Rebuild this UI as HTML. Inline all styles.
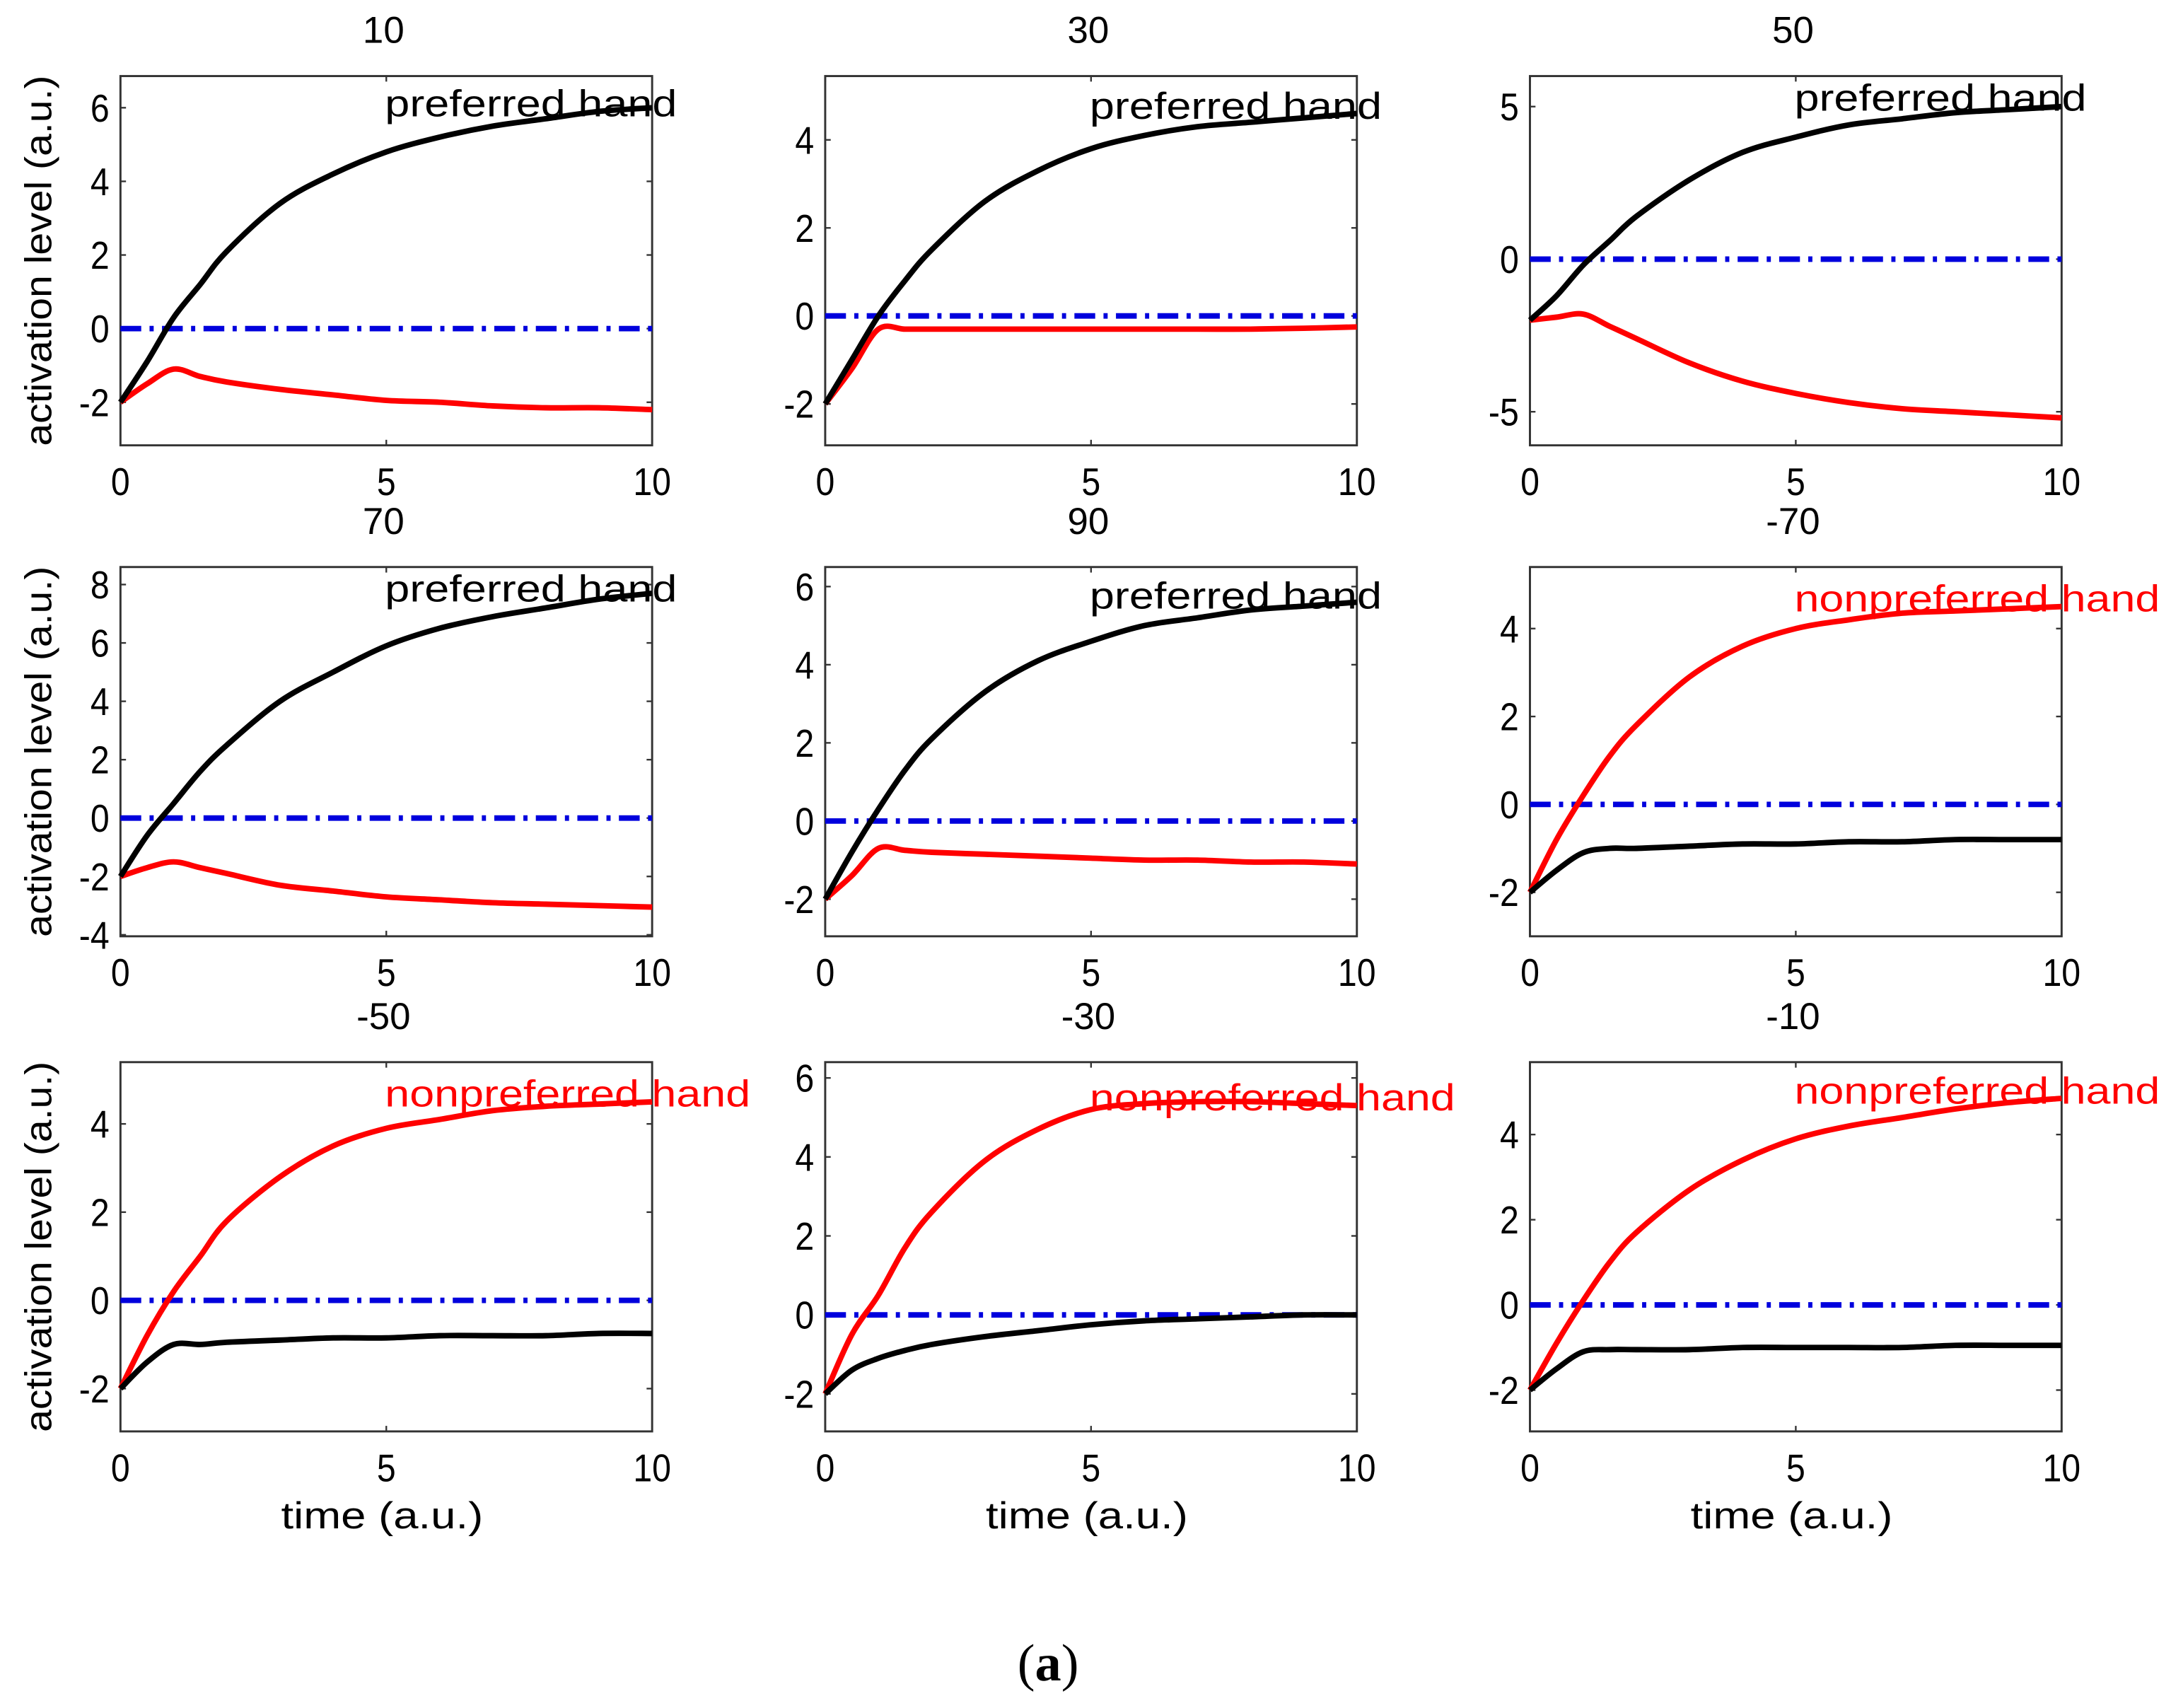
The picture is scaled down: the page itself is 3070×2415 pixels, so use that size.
<!DOCTYPE html>
<html><head><meta charset="utf-8">
<style>
html,body{margin:0;padding:0;background:#fff;}
svg{display:block;}
text{font-family:"Liberation Sans",sans-serif;}
</style></head>
<body>
<svg id="fig" width="3070" height="2415" viewBox="0 0 1568 1235" preserveAspectRatio="none" xmlns="http://www.w3.org/2000/svg">
<text x="757" y="1215" text-anchor="middle" font-size="38" style="font-family:'Liberation Serif',serif">(<tspan font-weight="bold">a</tspan>)</text>
</svg>
<script>
const timeSamples = [0,0.5,1,1.5,2,3,4,5,6,7,8,9,10];
const panelTitles = ["10","30","50","70","90","-70","-50","-30","-10"];
const blackSeries = [
 [-2,-0.9,0.3,1.2,2.1,3.4,4.2,4.8,5.2,5.5,5.7,5.9,6.0],
 [-2,-1.0,0.0,0.8,1.5,2.6,3.3,3.8,4.1,4.3,4.4,4.5,4.6],
 [-2,-1.2,-0.2,0.6,1.4,2.6,3.5,4.0,4.4,4.6,4.8,4.9,5.0],
 [-2,-0.6,0.5,1.6,2.5,4.0,5.0,5.9,6.5,6.9,7.2,7.5,7.7],
 [-2,-0.8,0.3,1.3,2.1,3.3,4.1,4.6,5.0,5.2,5.4,5.5,5.6],
 [-2,-1.5,-1.1,-1.0,-1.0,-0.95,-0.9,-0.9,-0.85,-0.85,-0.8,-0.8,-0.8],
 [-2,-1.4,-1.0,-1.0,-0.95,-0.9,-0.85,-0.85,-0.8,-0.8,-0.8,-0.75,-0.75],
 [-2,-1.4,-1.1,-0.9,-0.75,-0.55,-0.4,-0.25,-0.15,-0.1,-0.05,0.0,0.0],
 [-2,-1.5,-1.1,-1.05,-1.05,-1.05,-1.0,-1.0,-1.0,-1.0,-0.95,-0.95,-0.95]
];
const redSeries = [
 [-2,-1.5,-1.1,-1.3,-1.45,-1.65,-1.8,-1.95,-2.0,-2.1,-2.15,-2.15,-2.2],
 [-2,-1.2,-0.3,-0.3,-0.3,-0.3,-0.3,-0.3,-0.3,-0.3,-0.3,-0.28,-0.25],
 [-2,-1.9,-1.8,-2.2,-2.6,-3.4,-4.0,-4.4,-4.7,-4.9,-5.0,-5.1,-5.2],
 [-2,-1.7,-1.5,-1.7,-1.9,-2.3,-2.5,-2.7,-2.8,-2.9,-2.95,-3.0,-3.05],
 [-2,-1.4,-0.7,-0.75,-0.8,-0.85,-0.9,-0.95,-1.0,-1.0,-1.05,-1.05,-1.1],
 [-2,-0.8,0.2,1.1,1.8,2.9,3.6,4.0,4.2,4.35,4.4,4.45,4.5],
 [-2,-0.8,0.2,1.0,1.8,2.8,3.5,3.9,4.1,4.3,4.4,4.45,4.5],
 [-2,-0.5,0.5,1.7,2.6,3.9,4.7,5.2,5.35,5.4,5.4,5.35,5.3],
 [-2,-0.9,0.1,1.0,1.7,2.7,3.4,3.9,4.2,4.4,4.6,4.75,4.85]
];
const yMin = [-3.17,-2.94,-6.1,-4.05,-2.95,-3.0,-2.97,-2.95,-2.97];
const yMax = [6.86,5.45,6.0,8.6,6.5,5.4,5.4,6.4,5.7];
const yTicks = [[-2,0,2,4,6],[-2,0,2,4],[-5,0,5],[-4,-2,0,2,4,6,8],[-2,0,2,4,6],[-2,0,2,4],[-2,0,2,4],[-2,0,2,4,6],[-2,0,2,4]];
const xTicks = [0,5,10];
const annotations = ["preferred hand","preferred hand","preferred hand","preferred hand","preferred hand","nonpreferred hand","nonpreferred hand","nonpreferred hand","nonpreferred hand"];
const annotY = [84,86,80,435,440,442,800,803,798];

const NS="http://www.w3.org/2000/svg";
const svg=document.getElementById('fig');
const colX=[87,596,1105], rowY=[55,410,768], W=384, H=267;
function mk(tag,attrs,parent){const e=document.createElementNS(NS,tag);for(const k in attrs)e.setAttribute(k,attrs[k]);(parent||svg).appendChild(e);return e;}
function pathFrom(pts){let d="M"+pts[0][0]+","+pts[0][1];for(let i=0;i<pts.length-1;i++){const p0=pts[Math.max(0,i-1)],p1=pts[i],p2=pts[i+1],p3=pts[Math.min(pts.length-1,i+2)];const c1=[p1[0]+(p2[0]-p0[0])/6,p1[1]+(p2[1]-p0[1])/6],c2=[p2[0]-(p3[0]-p1[0])/6,p2[1]-(p3[1]-p1[1])/6];d+=" C"+c1[0]+","+c1[1]+" "+c2[0]+","+c2[1]+" "+p2[0]+","+p2[1];}return d;}

for(let p=0;p<9;p++){
 const x0=colX[p%3], y0=rowY[Math.floor(p/3)];
 const xs=t=>x0+t/10*W;
 const ys=v=>y0+(yMax[p]-v)/(yMax[p]-yMin[p])*H;
 const g=mk('g',{});
 
 
 const t=mk('text',{x:x0+W/2-2,y:y0-24,'text-anchor':'middle','font-size':27},g);t.textContent=panelTitles[p];
 
 
 const fr=mk('rect',{x:x0,y:y0,width:W,height:H,fill:'none',stroke:'#333','stroke-width':1.5},g);
 
 
 yTicks[p].forEach(v=>{const y=ys(v);
  mk('line',{x1:x0,x2:x0+4,y1:y,y2:y,stroke:'#333','stroke-width':1.2},g);
  mk('line',{x1:x0+W-4,x2:x0+W,y1:y,y2:y,stroke:'#333','stroke-width':1.2},g);
  const l=mk('text',{x:x0-8,y:y+10,'text-anchor':'end','font-size':28,transform:'translate('+(x0-8)+',0) scale(0.88,1) translate('+(-(x0-8))+',0)'},g);l.textContent=v;
  
  });
 xTicks.forEach(v=>{const x=xs(v);
  mk('line',{x1:x,x2:x,y1:y0+H,y2:y0+H-4,stroke:'#333','stroke-width':1.2},g);
  mk('line',{x1:x,x2:x,y1:y0,y2:y0+4,stroke:'#333','stroke-width':1.2},g);
  const l=mk('text',{x:x,y:y0+H+36,'text-anchor':'middle','font-size':28,transform:'translate('+x+',0) scale(0.88,1) translate('+(-x)+',0)'},g);l.textContent=v;
  
  });
 const z=mk('line',{x1:x0,x2:x0+W,y1:ys(0),y2:ys(0),stroke:'#0000dd','stroke-width':4,'stroke-dasharray':'15 6 3 6'},g);
 
 
 const rp=mk('path',{d:pathFrom(timeSamples.map((tt,i)=>[xs(tt),ys(redSeries[p][i])])),fill:'none',stroke:'#ff0000','stroke-width':4},g);
 
 
 const bp=mk('path',{d:pathFrom(timeSamples.map((tt,i)=>[xs(tt),ys(blackSeries[p][i])])),fill:'none',stroke:'#000','stroke-width':4},g);
 
 
 const pref=annotations[p]==="preferred hand";
 const a=mk('text',{x:x0+191,y:annotY[p],'font-size':27,fill:pref?'#000':'#ff0000',textLength:pref?211:264,lengthAdjust:'spacingAndGlyphs'},g);a.textContent=annotations[p];
 
 
 if(p%3===0){const yl=mk('text',{transform:'translate(37,'+(y0+H/2)+') rotate(-90)','text-anchor':'middle','font-size':27,textLength:268,lengthAdjust:'spacingAndGlyphs'},g);yl.textContent='activation level (a.u.)';
  
  }
 if(p>=6){const xl=mk('text',{x:x0+W/2-3,y:1105,'text-anchor':'middle','font-size':27,textLength:146,lengthAdjust:'spacingAndGlyphs'},g);xl.textContent='time (a.u.)';
  
  }
}
</script>
</body></html>
